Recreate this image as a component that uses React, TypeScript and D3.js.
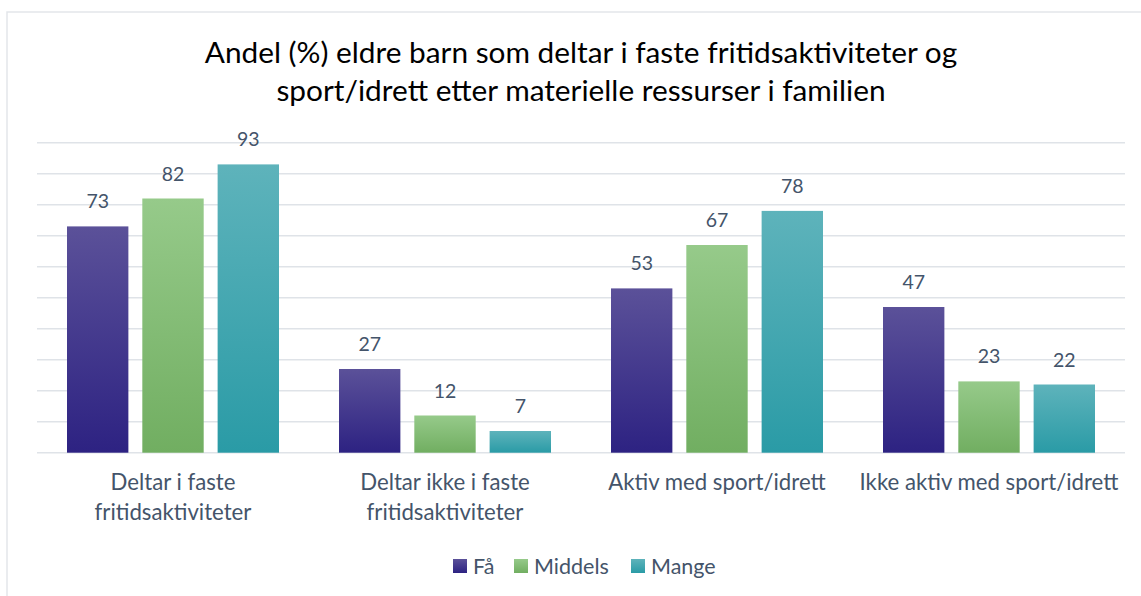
import React from "react";
import * as d3 from "d3";

const categories: string[][] = [
  ["Deltar i faste", "fritidsaktiviteter"],
  ["Deltar ikke i faste", "fritidsaktiviteter"],
  ["Aktiv med sport/idrett"],
  ["Ikke aktiv med sport/idrett"],
];
const series = ["Få", "Middels", "Mange"];
const faValues = [73, 27, 53, 47];
const middelsValues = [82, 12, 67, 23];
const mangeValues = [93, 7, 78, 22];
const yTicks = [0, 10, 20, 30, 40, 50, 60, 70, 80, 90, 100];
const titleLines = [
  "Andel (%) eldre barn som deltar i faste fritidsaktiviteter og",
  "sport/idrett etter materielle ressurser i familien",
];

const gradients = [
  { id: "gFa", top: "#5B5199", bottom: "#2D2282" },
  { id: "gMid", top: "#96CA8A", bottom: "#71AE61" },
  { id: "gMan", top: "#5EB3BB", bottom: "#2A9BA6" },
];

const W = 1141;
const H = 596;
const FONT = "Lato, 'Open Sans', sans-serif";
const TXT = "#44546A";

export default function App() {
  const valuesBySeries = [faValues, middelsValues, mangeValues];
  const catIdx = categories.map((_, i) => String(i));
  const x0 = d3.scaleBand().domain(catIdx).range([37, 1125]).padding(0);
  const bw0 = x0.bandwidth();
  const x1 = d3
    .scaleBand()
    .domain(series)
    .range([30, bw0 - 30])
    .paddingInner(0.185)
    .paddingOuter(0);
  const y = d3.scaleLinear().domain([0, 100]).range([452.7, 142.7]);

  return (
    <div style={{ position: "fixed", left: 0, top: 0 }}>
      <svg width={W} height={H} style={{ display: "block", background: "#fff" }}>
        <defs>
          {gradients.map((g) => (
            <linearGradient key={g.id} id={g.id} x1="0" y1="0" x2="0" y2="1">
              <stop offset="0" stopColor={g.top} />
              <stop offset="1" stopColor={g.bottom} />
            </linearGradient>
          ))}
        </defs>
        <rect x={7} y={12} width={1150} height={600} fill="#fff" stroke="#E3E6EA" strokeWidth={1.5} />
        {titleLines.map((t, i) => (
          <text
            key={i}
            x={581}
            y={63 + i * 38}
            textAnchor="middle"
            fontFamily={FONT}
            fontSize={29.8}
            fill="#000"
          >
            {t}
          </text>
        ))}
        {yTicks.map((t) => (
          <line key={t} x1={37} x2={1125} y1={y(t)} y2={y(t)} stroke="#DFE3E8" strokeWidth={1.5} />
        ))}
        {catIdx.map((c, ci) => (
          <g key={c} transform={`translate(${x0(c)},0)`}>
            {series.map((s, si) => {
              const v = valuesBySeries[si][ci];
              const bx = x1(s)!;
              return (
                <g key={s}>
                  <rect
                    x={bx}
                    y={y(v)}
                    width={x1.bandwidth()}
                    height={y(0) - y(v)}
                    fill={`url(#${gradients[si].id})`}
                  />
                  <text
                    x={bx + x1.bandwidth() / 2}
                    y={y(v) - 18}
                    textAnchor="middle"
                    fontFamily={FONT}
                    fontSize={19.5}
                    fill={TXT}
                  >
                    {v}
                  </text>
                </g>
              );
            })}
            {categories[ci].map((line, li) => (
              <text
                key={li}
                x={bw0 / 2}
                y={490 + li * 30}
                textAnchor="middle"
                fontFamily={FONT}
                fontSize={22.2}
                fill={TXT}
              >
                {line}
              </text>
            ))}
          </g>
        ))}
        {(() => {
          const starts = [453, 514, 631];
          return series.map((s, si) => (
            <g key={s} transform={`translate(${starts[si]},559)`}>
              <rect width={14} height={14} fill={`url(#${gradients[si].id})`} />
              <text x={20} y={14.5} fontFamily={FONT} fontSize={21.5} fill={TXT}>
                {s}
              </text>
            </g>
          ));
        })()}
      </svg>
    </div>
  );
}
